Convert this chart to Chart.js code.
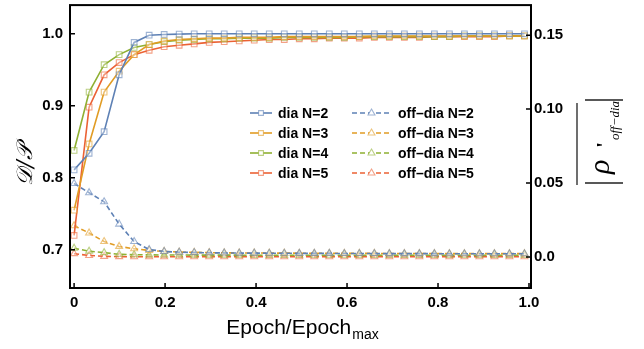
<!DOCTYPE html>
<html>
<head>
<meta charset="UTF-8">
<title>dia / off-dia vs epoch</title>
<script src="https://cdn.jsdelivr.net/npm/chart.js@4.4.0/dist/chart.umd.min.js"></script>
<style>
    body { margin: 0; background: #fff; }
</style>
</head>
<body>
<canvas id="chart" width="644" height="349"></canvas>

<script>
    // x = Epoch/Epoch_max
    var epochFrac = [0, 0.033, 0.066, 0.099, 0.132, 0.165, 0.198, 0.231, 0.264, 0.297, 0.33,
        0.363, 0.396, 0.429, 0.462, 0.495, 0.528, 0.561, 0.594, 0.627, 0.66,
        0.693, 0.726, 0.759, 0.792, 0.825, 0.858, 0.891, 0.924, 0.957, 0.99];

    // left axis, D/P
    var diaN2 = [0.811, 0.834, 0.864, 0.943, 0.988, 0.998, 0.999, 0.9995, 1.0, 1.0, 1.0,
        1.0, 1.0, 1.0, 1.0, 1.0, 1.0, 1.0, 1.0, 1.0, 1.0,
        1.0, 1.0, 1.0, 1.0, 1.0, 1.0, 1.0, 1.0, 1.0, 1.0];
    var diaN3 = [0.755, 0.847, 0.919, 0.948, 0.971, 0.985, 0.990, 0.992, 0.993, 0.994, 0.994,
        0.995, 0.995, 0.995, 0.996, 0.996, 0.996, 0.996, 0.996, 0.996, 0.997,
        0.997, 0.997, 0.997, 0.997, 0.997, 0.997, 0.997, 0.997, 0.997, 0.997];
    var diaN4 = [0.838, 0.919, 0.957, 0.971, 0.981, 0.985, 0.989, 0.991, 0.992, 0.993, 0.993,
        0.994, 0.994, 0.994, 0.995, 0.995, 0.995, 0.995, 0.995, 0.996, 0.996,
        0.996, 0.996, 0.996, 0.996, 0.996, 0.997, 0.997, 0.997, 0.997, 0.997];
    var diaN5 = [0.720, 0.898, 0.943, 0.960, 0.971, 0.977, 0.982, 0.984, 0.986, 0.988, 0.989,
        0.990, 0.991, 0.992, 0.992, 0.993, 0.993, 0.994, 0.994, 0.994, 0.995,
        0.995, 0.995, 0.995, 0.996, 0.996, 0.996, 0.996, 0.996, 0.997, 0.997];

    // right axis, mean |rho' off-dia|
    var offN2 = [0.0497, 0.0435, 0.0374, 0.0223, 0.0105, 0.0051, 0.0038, 0.0033, 0.0031, 0.0029, 0.0028,
        0.0027, 0.0027, 0.0026, 0.0026, 0.0025, 0.0025, 0.0025, 0.0024, 0.0024, 0.0024,
        0.0023, 0.0023, 0.0023, 0.0023, 0.0022, 0.0022, 0.0022, 0.0022, 0.0022, 0.0022];
    var offN3 = [0.0212, 0.0163, 0.0105, 0.0072, 0.0056, 0.0045, 0.0038, 0.0034, 0.0032, 0.0030, 0.0029,
        0.0028, 0.0028, 0.0027, 0.0027, 0.0026, 0.0026, 0.0026, 0.0025, 0.0025, 0.0025,
        0.0024, 0.0024, 0.0024, 0.0024, 0.0023, 0.0023, 0.0023, 0.0023, 0.0023, 0.0023];
    var offN4 = [0.0060, 0.0040, 0.0030, 0.0019, 0.0016, 0.0015, 0.0014, 0.0014, 0.0013, 0.0013, 0.0013,
        0.0013, 0.0012, 0.0012, 0.0012, 0.0012, 0.0012, 0.0012, 0.0012, 0.0012, 0.0012,
        0.0012, 0.0012, 0.0012, 0.0012, 0.0012, 0.0012, 0.0012, 0.0012, 0.0012, 0.0012];
    var offN5 = [0.0023, 0.0011, 0.0005, 0.0003, 0.0002, 0.0002, 0.0002, 0.0002, 0.0002, 0.0002, 0.0002,
        0.0002, 0.0002, 0.0002, 0.0002, 0.0002, 0.0002, 0.0002, 0.0002, 0.0002, 0.0002,
        0.0002, 0.0002, 0.0002, 0.0002, 0.0002, 0.0002, 0.0002, 0.0002, 0.0002, 0.0002];

    var seriesN = ['N=2', 'N=3', 'N=4', 'N=5'];
    var xTicks = [0, 0.2, 0.4, 0.6, 0.8, 1.0];
    var xTickLabels = ['0', '0.2', '0.4', '0.6', '0.8', '1.0'];
    var leftTicks = [0.7, 0.8, 0.9, 1.0];
    var leftTickLabels = ['0.7', '0.8', '0.9', '1.0'];
    var rightTicks = [0, 0.05, 0.10, 0.15];
    var rightTickLabels = ['0.0', '0.05', '0.10', '0.15'];

    var colors = ['#5E81B5', '#E19C24', '#8FB032', '#EB6235'];
    var markerColors = ['rgba(94,129,181,0.6)', 'rgba(225,156,36,0.6)', 'rgba(143,176,50,0.6)', 'rgba(235,98,53,0.6)'];
    var SANS = "'Liberation Sans', Arial, sans-serif";

    function pts(ys) {
        return epochFrac.map(function(x, i) { return { x: x, y: ys[i] }; });
    }

    var diaSets = [diaN2, diaN3, diaN4, diaN5].map(function(ys, i) {
        return {
            label: 'dia ' + seriesN[i],
            data: pts(ys),
            yAxisID: 'y',
            borderColor: colors[i],
            borderWidth: 1.6,
            pointStyle: 'rect',
            pointRadius: 4,
            pointBorderWidth: 1.1,
            pointBorderColor: markerColors[i],
            pointBackgroundColor: 'rgba(255,255,255,0.35)',
            tension: 0
        };
    });
    var offSets = [offN2, offN3, offN4, offN5].map(function(ys, i) {
        return {
            label: 'off\u2013dia ' + seriesN[i],
            data: pts(ys),
            yAxisID: 'y1',
            borderColor: colors[i],
            borderWidth: 1.6,
            borderDash: [5, 3],
            pointStyle: 'triangle',
            pointRadius: 4,
            pointBorderWidth: 1.1,
            pointBorderColor: markerColors[i],
            pointBackgroundColor: 'rgba(255,255,255,0.35)',
            tension: 0
        };
    });

    function fixedTicks(values) {
        return function(scale) {
            scale.ticks = values.map(function(v) { return { value: v }; });
        };
    }

    function noPad(s) {
        s.paddingTop = 0; s.paddingBottom = 0;
        s.paddingLeft = 0; s.paddingRight = 0;
    }

    // frame with inward tick marks
    var framePlugin = {
        id: 'frame',
        afterDraw: function(chart) {
            var ctx = chart.ctx, a = chart.chartArea, s = chart.scales;
            ctx.save();
            ctx.strokeStyle = '#000';
            ctx.lineWidth = 2;
            ctx.strokeRect(a.left, a.top, a.right - a.left, a.bottom - a.top);
            ctx.lineWidth = 1.5;
            ctx.beginPath();
            xTicks.forEach(function(v) {
                var px = s.x.getPixelForValue(v);
                ctx.moveTo(px, a.bottom); ctx.lineTo(px, a.bottom - 5);
            });
            leftTicks.forEach(function(v) {
                var py = s.y.getPixelForValue(v);
                ctx.moveTo(a.left, py); ctx.lineTo(a.left + 5, py);
            });
            rightTicks.forEach(function(v) {
                var py = s.y1.getPixelForValue(v);
                ctx.moveTo(a.right, py); ctx.lineTo(a.right - 5, py);
            });
            ctx.stroke();
            ctx.restore();
        }
    };

    // axis titles (subscripts, rotated math text)
    var titlesPlugin = {
        id: 'titles',
        afterDraw: function(chart) {
            var ctx = chart.ctx;
            ctx.save();
            ctx.fillStyle = '#000';

            // x title: Epoch/Epoch_max
            ctx.font = '21px ' + SANS;
            var main = 'Epoch/Epoch';
            var w1 = ctx.measureText(main).width;
            ctx.font = '14px ' + SANS;
            var w2 = ctx.measureText('max').width;
            var x0 = 302 - (w1 + w2) / 2;
            ctx.textBaseline = 'alphabetic';
            ctx.font = '21px ' + SANS;
            ctx.fillText(main, x0, 334);
            ctx.font = '14px ' + SANS;
            ctx.fillText('max', x0 + w1 + 1, 339);

            // left title: D/P
            ctx.save();
            ctx.translate(32, 165);
            ctx.rotate(-Math.PI / 2);
            ctx.font = 'italic 22px "DejaVu Serif", serif';
            ctx.textAlign = 'center';
            ctx.fillText('\uD835\uDC9F/\uD835\uDCAB', 0, 0);
            ctx.restore();

            // right title: overline |rho'_off-dia|
            ctx.save();
            ctx.translate(600, 143);
            ctx.rotate(-Math.PI / 2);
            ctx.strokeStyle = '#222';
            ctx.lineWidth = 1.3;
            ctx.beginPath();
            ctx.moveTo(-40, -15); ctx.lineTo(-40, 23);
            ctx.moveTo(43, -15); ctx.lineTo(43, 23);
            ctx.moveTo(-42, -23); ctx.lineTo(40, -23);
            ctx.stroke();
            ctx.font = 'italic 30px "Liberation Serif", serif';
            ctx.fillText('\u03C1', -31, 9);
            ctx.font = 'bold 22px "Liberation Serif", serif';
            ctx.fillText("'", -5, 11);
            ctx.font = 'italic 13px "Liberation Serif", serif';
            ctx.fillText('off\u2212dia', 3, 19);
            ctx.restore();

            ctx.restore();
        }
    };

    // two-column legend inside the plot, built from the datasets
    var legendPlugin = {
        id: 'twoColLegend',
        afterDraw: function(chart) {
            var ctx = chart.ctx;
            var ds = chart.data.datasets;
            ctx.save();
            ctx.font = 'bold 14px ' + SANS;
            ctx.textBaseline = 'middle';
            ds.forEach(function(d, i) {
                var col = i < 4 ? 0 : 1;
                var row = i % 4;
                var y = 113 + row * 20;
                var lx0 = col === 0 ? 250 : 352;
                var lx1 = col === 0 ? 272 : 391;
                var tx = col === 0 ? 278 : 398;
                ctx.strokeStyle = d.borderColor;
                ctx.lineWidth = 1.6;
                ctx.setLineDash(d.borderDash || []);
                ctx.beginPath();
                ctx.moveTo(lx0, y); ctx.lineTo(lx1, y);
                ctx.stroke();
                ctx.setLineDash([]);
                ctx.fillStyle = '#fff';
                ctx.strokeStyle = d.pointBorderColor;
                ctx.lineWidth = 1.1;
                Chart.helpers.drawPoint(ctx, {
                    pointStyle: d.pointStyle,
                    radius: d.pointStyle === 'rect' ? 3.4 : 4,
                    borderWidth: 1.1,
                    rotation: 0
                }, (lx0 + lx1) / 2, y);
                ctx.fillStyle = '#000';
                ctx.fillText(d.label, tx, y + 1);
            });
            ctx.restore();
        }
    };

    var tickFont = { family: SANS, size: 15, weight: 'bold' };

    new Chart(document.getElementById('chart').getContext('2d'), {
        type: 'line',
        data: { datasets: diaSets.concat(offSets) },
        options: {
            responsive: false,
            animation: false,
            layout: { padding: { top: 2, left: 0, right: 0, bottom: 0 } },
            plugins: { legend: { display: false }, tooltip: { enabled: false } },
            scales: {
                x: {
                    type: 'linear',
                    min: -0.009,
                    max: 1.0044,
                    grid: { display: false, drawTicks: false },
                    border: { display: false },
                    afterBuildTicks: fixedTicks(xTicks),
                    afterFit: function(s) { s.height = 61; noPad(s); },
                    ticks: {
                        font: tickFont, color: '#000', padding: 6, maxRotation: 0, autoSkip: false,
                        callback: function(v, i) { return xTickLabels[i]; }
                    }
                },
                y: {
                    position: 'left',
                    min: 0.647,
                    max: 1.0398,
                    grid: { display: false, drawTicks: false },
                    border: { display: false },
                    afterBuildTicks: fixedTicks(leftTicks),
                    afterFit: function(s) { s.width = 70; noPad(s); },
                    ticks: {
                        font: tickFont, color: '#000', padding: 7,
                        callback: function(v, i) { return leftTickLabels[i]; }
                    }
                },
                y1: {
                    position: 'right',
                    min: -0.0209,
                    max: 0.1703,
                    grid: { display: false, drawTicks: false },
                    border: { display: false },
                    afterBuildTicks: fixedTicks(rightTicks),
                    afterFit: function(s) { s.width = 113; noPad(s); },
                    ticks: {
                        font: tickFont, color: '#000', padding: 3,
                        callback: function(v, i) { return rightTickLabels[i]; }
                    }
                }
            }
        },
        plugins: [framePlugin, titlesPlugin, legendPlugin]
    });
</script>
</body>
</html>
